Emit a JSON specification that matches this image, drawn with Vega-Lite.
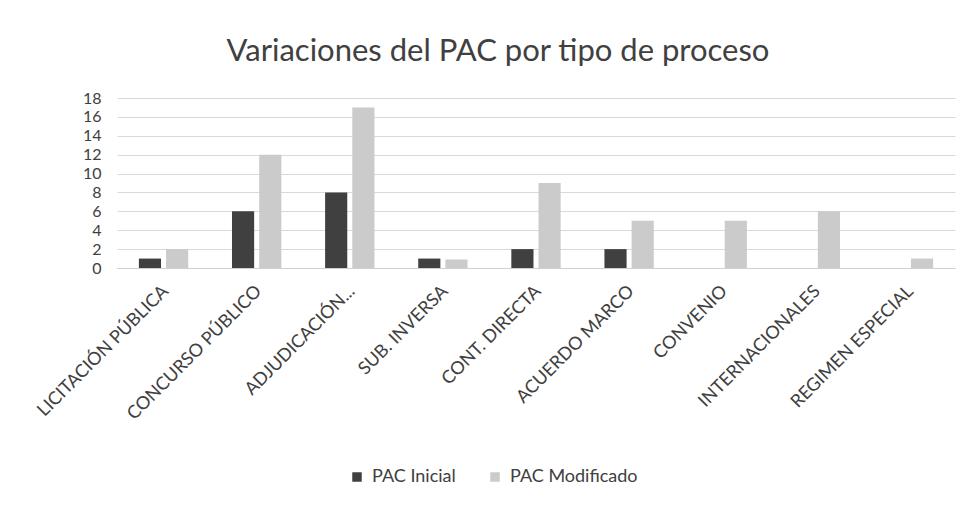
{
  "$schema": "https://vega.github.io/schema/vega-lite/v6.json",
  "width": 838,
  "height": 170,
  "autosize": {"type": "none"},
  "padding": {"left": 117, "top": 98, "right": 20, "bottom": 237},
  "background": "white",
  "title": {"text": "Variaciones del PAC por tipo de proceso", "fontSize": 31, "fontWeight": "normal", "font": "Lato", "color": "#404040", "offset": 22, "anchor": "middle", "dx": -38},
  "config": {"view": {"stroke": null}, "font": "Lato"},
  "data": {"values": [
    {"tipo": "LICITACIÓN PÚBLICA", "serie": "PAC Inicial", "valor": 1},
    {"tipo": "LICITACIÓN PÚBLICA", "serie": "PAC Modificado", "valor": 2},
    {"tipo": "CONCURSO PÚBLICO", "serie": "PAC Inicial", "valor": 6},
    {"tipo": "CONCURSO PÚBLICO", "serie": "PAC Modificado", "valor": 12},
    {"tipo": "ADJUDICACIÓN...", "serie": "PAC Inicial", "valor": 8},
    {"tipo": "ADJUDICACIÓN...", "serie": "PAC Modificado", "valor": 17},
    {"tipo": "SUB. INVERSA", "serie": "PAC Inicial", "valor": 1},
    {"tipo": "SUB. INVERSA", "serie": "PAC Modificado", "valor": 0.9},
    {"tipo": "CONT. DIRECTA", "serie": "PAC Inicial", "valor": 2},
    {"tipo": "CONT. DIRECTA", "serie": "PAC Modificado", "valor": 9},
    {"tipo": "ACUERDO MARCO", "serie": "PAC Inicial", "valor": 2},
    {"tipo": "ACUERDO MARCO", "serie": "PAC Modificado", "valor": 5},
    {"tipo": "CONVENIO", "serie": "PAC Inicial", "valor": 0},
    {"tipo": "CONVENIO", "serie": "PAC Modificado", "valor": 5},
    {"tipo": "INTERNACIONALES", "serie": "PAC Inicial", "valor": 0},
    {"tipo": "INTERNACIONALES", "serie": "PAC Modificado", "valor": 6},
    {"tipo": "REGIMEN ESPECIAL", "serie": "PAC Inicial", "valor": 0},
    {"tipo": "REGIMEN ESPECIAL", "serie": "PAC Modificado", "valor": 1}
  ]},
  "mark": {"type": "bar"},
  "encoding": {
    "x": {"field": "tipo", "type": "nominal", "sort": null, "title": null,
      "scale": {"paddingInner": 0.47, "paddingOuter": 0.235},
      "axis": {"labelAngle": -45, "labelFontSize": 18, "labelColor": "#404040", "ticks": false, "domainColor": "#d0d0d0", "labelPadding": 14, "labelLimit": 300, "labelOffset": -4}},
    "xOffset": {"field": "serie", "type": "nominal", "scale": {"paddingInner": 0.185}},
    "y": {"field": "valor", "type": "quantitative", "title": null,
      "scale": {"domain": [0, 18]},
      "axis": {"values": [0,2,4,6,8,10,12,14,16,18], "labelFontSize": 16, "labelColor": "#404040", "ticks": false, "domain": false, "gridColor": "#d9d9d9", "labelPadding": 16}},
    "color": {"field": "serie", "type": "nominal", "title": null,
      "scale": {"domain": ["PAC Inicial", "PAC Modificado"], "range": ["#404040", "#cbcbcb"]},
      "legend": {"orient": "none", "legendX": 231, "legendY": 370, "direction": "horizontal", "labelFontSize": 18, "labelColor": "#404040", "symbolType": "square", "symbolSize": 90, "columnPadding": 30, "labelOffset": 6}}
  }
}
